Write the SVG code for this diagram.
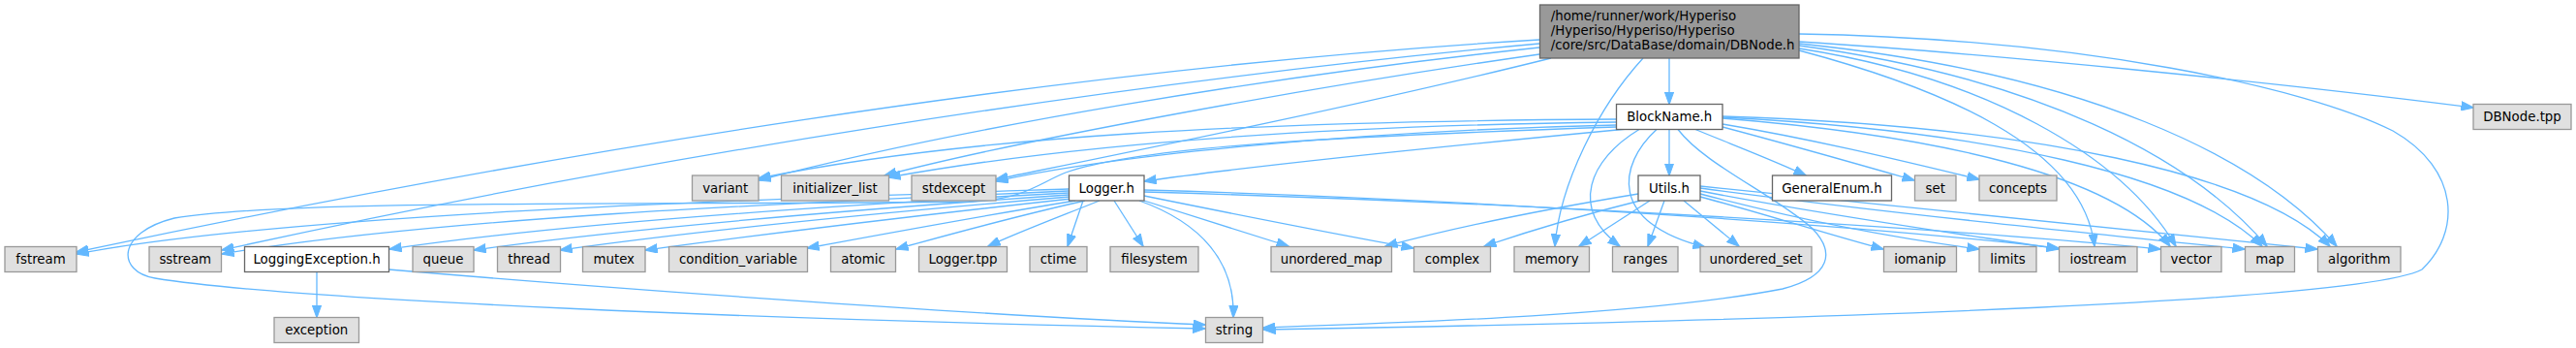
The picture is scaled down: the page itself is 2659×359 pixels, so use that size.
<svg xmlns="http://www.w3.org/2000/svg" width="2659" height="359" viewBox="0 0 2659 359">
<style>
.g rect{fill:#e0e0e0;stroke:#999999;stroke-width:1.3}
.w rect{fill:#ffffff;stroke:#666666;stroke-width:1.3}
.r rect{fill:#999999;stroke:#666666;stroke-width:1.3}
text{font-family:"DejaVu Sans","Liberation Sans",sans-serif;font-size:13.33px;fill:#000000}
.c{text-anchor:middle}
#edges path{fill:none;stroke:#63b8ff;stroke-width:1.3;marker-end:url(#a)}
</style>
<defs>
<marker id="a" viewBox="0 0 13 10" refX="12.5" refY="5" markerWidth="13" markerHeight="10" markerUnits="userSpaceOnUse" orient="auto"><path d="M0,0.35 L13,5 L0,9.65 z" fill="#63b8ff" stroke="#63b8ff" stroke-width="1"/></marker>
</defs>
<rect width="2659" height="359" fill="#ffffff"/>
<g id="edges">
<path d="M1723,60 L1723,107.5"/>
<path d="M1857,43 C2050,55 2350,85 2553,111"/>
<path d="M1857,35 C2150,40 2380,90 2470,135 C2540,175 2540,240 2500,278 C2440,310 1900,330 1304,340"/>
<path d="M1589,41 C1100,70 550,160 79,260"/>
<path d="M1589,45 C1150,85 650,165 229,258"/>
<path d="M1589,49 C1300,80 1000,130 783,186"/>
<path d="M1589,56 C1350,90 1050,145 913,181"/>
<path d="M1601,60 C1400,110 1150,160 1028,185"/>
<path d="M1696,60 C1650,110 1610,190 1605,254"/>
<path d="M1857,52 C2000,90 2150,150 2162,254"/>
<path d="M1857,50 C2050,80 2190,160 2246,254"/>
<path d="M1857,47 C2100,80 2260,160 2340,254"/>
<path d="M1857,45 C2150,75 2330,160 2412,254"/>
<path d="M1668,123 C1300,125 1000,140 783,184"/>
<path d="M1668,126 C1350,130 1100,150 917,183"/>
<path d="M1668,129 C1400,135 1150,160 1028,187"/>
<path d="M1680,133 C1500,150 1300,170 1181,187"/>
<path d="M1668,131 C1400,140 1180,150 1100,178 C1070,190 1060,205 1000,208 C700,212 300,205 180,225 C120,240 120,280 160,287 C300,310 800,330 1244,339"/>
<path d="M1723,133.5 L1723,181"/>
<path d="M1750,133.5 C1790,150 1830,165 1864,181"/>
<path d="M1778,131 C1850,150 1920,170 1976,186"/>
<path d="M1778,128 C1880,145 1980,170 2043,185"/>
<path d="M1692,133.5 C1640,165 1620,215 1672,254"/>
<path d="M1710,133.5 C1670,170 1660,230 1760,255"/>
<path d="M1732,133.5 C1760,170 1830,200 1870,235 C1895,260 1890,285 1840,298 C1700,325 1450,333 1304,338"/>
<path d="M1778,122 C2000,140 2180,180 2240,254"/>
<path d="M1778,121 C2050,135 2260,180 2335,254"/>
<path d="M1778,120 C2100,130 2330,180 2405,254"/>
<path d="M1691,200 C1600,215 1500,235 1430,254"/>
<path d="M1693,207 C1640,220 1580,238 1532,254"/>
<path d="M1703,207 L1630,254"/>
<path d="M1718,207 L1701,254"/>
<path d="M1738,207 L1795,254"/>
<path d="M1755,203 C1820,220 1880,240 1944,257"/>
<path d="M1755,200 C1850,225 1950,245 2043,257"/>
<path d="M1755,197 C1900,225 2050,245 2125,257"/>
<path d="M1755,194 C1950,220 2150,240 2317,257"/>
<path d="M1755,192 C1980,215 2200,238 2392,257"/>
<path d="M1103,195 C800,205 300,220 79,262"/>
<path d="M1103,197 C800,210 450,225 229,262"/>
<path d="M1103,199 C800,215 550,235 402,257"/>
<path d="M1103,201 C900,215 650,235 489,258"/>
<path d="M1104,203 C900,220 720,238 578,258"/>
<path d="M1106,205 C950,222 800,240 666,258"/>
<path d="M1110,207 C1000,225 920,240 833,256"/>
<path d="M1120,207 C1040,225 980,242 925,257"/>
<path d="M1135,207 C1090,225 1050,240 1020,254"/>
<path d="M1118,207 L1102,254"/>
<path d="M1150,207 L1180,254"/>
<path d="M1181,207 C1230,222 1280,238 1330,254"/>
<path d="M1181,202 C1270,220 1370,240 1459,256"/>
<path d="M1176,207 C1240,230 1275,270 1273,327.5"/>
<path d="M1181,196 C1500,205 1900,230 2125,256"/>
<path d="M1181,198 C1600,210 2000,235 2230,257"/>
<path d="M327,280.5 L327,327.5"/>
<path d="M401,278 C600,295 1000,325 1244,335"/>
</g>
<g id="n-dbnode" class="r"><rect x="1589.5" y="5" width="267.5" height="55"/><text x="1600.7" y="20.5">/home/runner/work/Hyperiso</text><text x="1600.7" y="35.5">/Hyperiso/Hyperiso/Hyperiso</text><text x="1600.7" y="50.5">/core/src/DataBase/domain/DBNode.h</text></g>
<g id="n-blockname" class="w"><rect x="1668.5" y="107.5" width="109.5" height="26"/><text class="c" x="1723.25" y="125">BlockName.h</text></g>
<g id="n-dbnodetpp" class="g"><rect x="2553" y="107.5" width="101" height="26"/><text class="c" x="2603.5" y="125">DBNode.tpp</text></g>
<g id="n-variant" class="g"><rect x="714.5" y="181" width="68.5" height="26"/><text class="c" x="748.75" y="198.5">variant</text></g>
<g id="n-initializer_list" class="g"><rect x="806.5" y="181" width="111" height="26"/><text class="c" x="862" y="198.5">initializer_list</text></g>
<g id="n-stdexcept" class="g"><rect x="941" y="181" width="87" height="26"/><text class="c" x="984.5" y="198.5">stdexcept</text></g>
<g id="n-logger" class="w"><rect x="1103.5" y="181" width="77.5" height="26"/><text class="c" x="1142.25" y="198.5">Logger.h</text></g>
<g id="n-utils" class="w"><rect x="1691" y="181" width="64" height="26"/><text class="c" x="1723" y="198.5">Utils.h</text></g>
<g id="n-generalenum" class="w"><rect x="1829.5" y="181" width="123" height="26"/><text class="c" x="1891" y="198.5">GeneralEnum.h</text></g>
<g id="n-set" class="g"><rect x="1976.5" y="181" width="42.5" height="26"/><text class="c" x="1997.75" y="198.5">set</text></g>
<g id="n-concepts" class="g"><rect x="2043" y="181" width="80" height="26"/><text class="c" x="2083" y="198.5">concepts</text></g>
<g id="n-fstream" class="g"><rect x="5" y="254.5" width="74" height="26"/><text class="c" x="42" y="272">fstream</text></g>
<g id="n-sstream" class="g"><rect x="154" y="254.5" width="74.5" height="26"/><text class="c" x="191.25" y="272">sstream</text></g>
<g id="n-loggingexception" class="w"><rect x="252.5" y="254.5" width="149" height="26"/><text class="c" x="327" y="272">LoggingException.h</text></g>
<g id="n-queue" class="g"><rect x="426" y="254.5" width="63" height="26"/><text class="c" x="457.5" y="272">queue</text></g>
<g id="n-thread" class="g"><rect x="513.5" y="254.5" width="65" height="26"/><text class="c" x="546" y="272">thread</text></g>
<g id="n-mutex" class="g"><rect x="601.5" y="254.5" width="64.5" height="26"/><text class="c" x="633.75" y="272">mutex</text></g>
<g id="n-condition_variable" class="g"><rect x="690.5" y="254.5" width="143" height="26"/><text class="c" x="762" y="272">condition_variable</text></g>
<g id="n-atomic" class="g"><rect x="857.5" y="254.5" width="67" height="26"/><text class="c" x="891" y="272">atomic</text></g>
<g id="n-loggertpp" class="g"><rect x="948.5" y="254.5" width="91" height="26"/><text class="c" x="994" y="272">Logger.tpp</text></g>
<g id="n-ctime" class="g"><rect x="1063" y="254.5" width="59" height="26"/><text class="c" x="1092.5" y="272">ctime</text></g>
<g id="n-filesystem" class="g"><rect x="1146" y="254.5" width="91" height="26"/><text class="c" x="1191.5" y="272">filesystem</text></g>
<g id="n-unordered_map" class="g"><rect x="1312" y="254.5" width="124.5" height="26"/><text class="c" x="1374.25" y="272">unordered_map</text></g>
<g id="n-complex" class="g"><rect x="1459.5" y="254.5" width="79" height="26"/><text class="c" x="1499" y="272">complex</text></g>
<g id="n-memory" class="g"><rect x="1563" y="254.5" width="77.5" height="26"/><text class="c" x="1601.75" y="272">memory</text></g>
<g id="n-ranges" class="g"><rect x="1664.5" y="254.5" width="67.5" height="26"/><text class="c" x="1698.25" y="272">ranges</text></g>
<g id="n-unordered_set" class="g"><rect x="1755" y="254.5" width="115" height="26"/><text class="c" x="1812.5" y="272">unordered_set</text></g>
<g id="n-iomanip" class="g"><rect x="1944.5" y="254.5" width="75" height="26"/><text class="c" x="1982" y="272">iomanip</text></g>
<g id="n-limits" class="g"><rect x="2043" y="254.5" width="59" height="26"/><text class="c" x="2072.5" y="272">limits</text></g>
<g id="n-iostream" class="g"><rect x="2125.5" y="254.5" width="80.5" height="26"/><text class="c" x="2165.75" y="272">iostream</text></g>
<g id="n-vector" class="g"><rect x="2230.5" y="254.5" width="62.5" height="26"/><text class="c" x="2261.75" y="272">vector</text></g>
<g id="n-map" class="g"><rect x="2317.5" y="254.5" width="51" height="26"/><text class="c" x="2343" y="272">map</text></g>
<g id="n-algorithm" class="g"><rect x="2392.5" y="254.5" width="85.5" height="26"/><text class="c" x="2435.25" y="272">algorithm</text></g>
<g id="n-exception" class="g"><rect x="283" y="327.5" width="87.5" height="26"/><text class="c" x="326.75" y="345">exception</text></g>
<g id="n-string" class="g"><rect x="1244.5" y="327.5" width="59" height="26"/><text class="c" x="1274" y="345">string</text></g>
</svg>
